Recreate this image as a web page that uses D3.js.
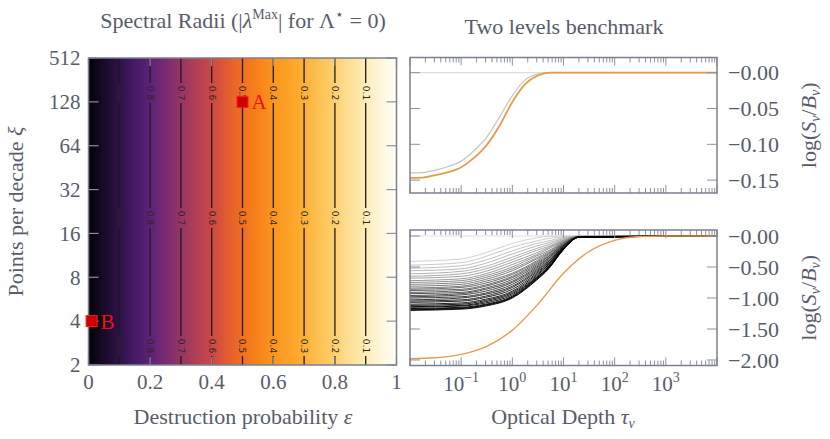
<!DOCTYPE html>
<html>
<head>
<meta charset="utf-8">
<script src="https://cdn.jsdelivr.net/npm/d3@7"></script>
<style>
  body { margin: 0; background: #fff; }
  text { font-family: "Liberation Serif", serif; fill: #575c6b; }
</style>
</head>
<body>
<div id="vis-holder"></div>
<script>
// ---- data ---------------------------------------------------------------
// spectral radius vs destruction probability (same for every xi row)
const epsValues = [0, 0.05, 0.1, 0.15, 0.2, 0.25, 0.3, 0.35, 0.4, 0.45, 0.5,
                   0.55, 0.6, 0.65, 0.7, 0.75, 0.8, 0.85, 0.9, 0.95, 1];
const radiusValues = [1, 0.95, 0.9, 0.85, 0.8, 0.75, 0.7, 0.65, 0.6, 0.55, 0.5,
                      0.45, 0.4, 0.35, 0.3, 0.25, 0.2, 0.15, 0.1, 0.05, 0];
const xiLevels = ["2", "4", "8", "16", "32", "64", "128", "512"];
const contourLevels = [0.9, 0.8, 0.7, 0.6, 0.5, 0.4, 0.3, 0.2, 0.1];
const epsTicks = [0, 0.2, 0.4, 0.6, 0.8, 1];
const epsTickLabels = ["0", "0.2", "0.4", "0.6", "0.8", "1"];
const markerNames = ["A", "B"];
const markerEps = [0.5, 0.01];
const markerXi = ["128", "4"];

// two level benchmark, top panel (eps = 0.5)  [tau, log(S/B)]
const topExact = [[0.01, -0.147], [0.0178, -0.1465], [0.0316, -0.143], [0.056, -0.139],
                  [0.1, -0.132], [0.178, -0.119], [0.316, -0.101], [0.562, -0.074],
                  [1.0, -0.041], [1.78, -0.016], [3.16, -0.004], [5.62, 0], [10, 0], [10000, 0]];
const topIter = [[0.01, -0.140], [0.0178, -0.1395], [0.0316, -0.136], [0.056, -0.131],
                 [0.1, -0.1235], [0.178, -0.109], [0.316, -0.090], [0.562, -0.062],
                 [1.0, -0.032], [1.78, -0.010], [3.16, -0.002], [5.62, 0], [10, 0], [10000, 0]];
const startGuess = [[0.01, 0], [10000, 0]];

// bottom panel: iterations sampled at tauNodes
const tauNodes = [0.01, 0.1, 0.3, 1, 3, 5, 10, 20, 10000];
const iterCurves = [
  [-0.41, -0.37, -0.27, -0.12, -0.03, -0.005, 0, 0, 0],
  [-0.47, -0.43, -0.33, -0.18, -0.08, -0.04, -0.015, -0.001, 0],
  [-0.52, -0.48, -0.39, -0.24, -0.12, -0.08, -0.030, -0.003, 0],
  [-0.56, -0.53, -0.44, -0.29, -0.16, -0.11, -0.043, -0.004, 0],
  [-0.61, -0.57, -0.49, -0.34, -0.20, -0.14, -0.055, -0.005, 0],
  [-0.65, -0.61, -0.53, -0.38, -0.23, -0.17, -0.066, -0.006, 0],
  [-0.68, -0.65, -0.57, -0.42, -0.27, -0.19, -0.076, -0.007, 0],
  [-0.72, -0.69, -0.61, -0.46, -0.30, -0.21, -0.086, -0.008, 0],
  [-0.75, -0.72, -0.64, -0.50, -0.32, -0.24, -0.095, -0.009, 0],
  [-0.78, -0.75, -0.67, -0.53, -0.35, -0.26, -0.103, -0.009, 0],
  [-0.81, -0.78, -0.70, -0.56, -0.37, -0.28, -0.111, -0.010, 0],
  [-0.84, -0.81, -0.73, -0.60, -0.40, -0.29, -0.119, -0.011, 0],
  [-0.86, -0.83, -0.76, -0.62, -0.42, -0.31, -0.125, -0.011, 0],
  [-0.88, -0.86, -0.79, -0.65, -0.44, -0.33, -0.132, -0.012, 0],
  [-0.91, -0.88, -0.81, -0.67, -0.46, -0.34, -0.139, -0.013, 0],
  [-0.93, -0.91, -0.84, -0.70, -0.48, -0.36, -0.145, -0.013, 0],
  [-0.96, -0.93, -0.86, -0.73, -0.50, -0.37, -0.152, -0.014, 0],
  [-0.98, -0.95, -0.89, -0.75, -0.52, -0.39, -0.158, -0.014, 0],
  [-1.00, -0.98, -0.92, -0.78, -0.54, -0.41, -0.165, -0.015, 0],
  [-1.03, -1.00, -0.94, -0.81, -0.56, -0.42, -0.172, -0.016, 0],
  [-1.05, -1.03, -0.97, -0.83, -0.58, -0.44, -0.178, -0.016, 0],
  [-1.07, -1.05, -0.99, -0.86, -0.60, -0.45, -0.185, -0.017, 0],
  [-1.10, -1.08, -1.02, -0.89, -0.62, -0.47, -0.191, -0.017, 0],
  [-1.12, -1.10, -1.04, -0.91, -0.64, -0.48, -0.197, -0.018, 0],
  [-1.14, -1.12, -1.06, -0.93, -0.66, -0.50, -0.202, -0.018, 0],
  [-1.15, -1.13, -1.08, -0.95, -0.67, -0.51, -0.207, -0.019, 0],
  [-1.17, -1.15, -1.10, -0.97, -0.68, -0.52, -0.211, -0.019, 0],
  [-1.18, -1.16, -1.11, -0.98, -0.69, -0.53, -0.215, -0.020, 0],
  [-1.19, -1.17, -1.12, -0.99, -0.70, -0.53, -0.218, -0.020, 0],
  [-1.20, -1.18, -1.13, -1.00, -0.71, -0.54, -0.220, -0.020, 0]
];
// bottom panel exact solution (eps = 1e-4)
const bottomExact = [[0.01, -1.98], [0.0316, -1.965], [0.1, -1.91], [0.316, -1.78],
                     [1, -1.52], [3.16, -1.10], [10, -0.60], [31.6, -0.25],
                     [100, -0.07], [316, -0.008], [1000, 0], [10000, 0]];

const topTicks = [0, -0.05, -0.1, -0.15];
const topTickLabels = ["\u22120.00", "\u22120.05", "\u22120.10", "\u22120.15"];
const bottomTicks = [0, -0.5, -1, -1.5, -2];
const bottomTickLabels = ["\u22120.00", "\u22120.50", "\u22121.00", "\u22121.50", "\u22122.00"];
const tauLabelTicks = [0.1, 1, 10, 100, 1000];
const tauLabelExps = ["\u22121", "0", "1", "2", "3"];

// ---- styles -------------------------------------------------------------
// colours for spectral radius 0 -> 1
const heatColors = ["#fffdf5", "#fff6dc", "#feedb8", "#fee096", "#fed072", "#fec153",
                    "#fdb035", "#fca226", "#fb951e", "#f7821a", "#f0701f", "#e25c30",
                    "#cc4845", "#b13f55", "#953664", "#792b70", "#5e2278", "#461a66",
                    "#2e1248", "#180b28", "#030207"];
const frameColor = "#7b8090";
const tickColor = "#8c919c";
const orange = "#e69a4b";

const width = 830, height = 439;

const svg = d3.select("#vis-holder")
  .append("svg")
  .attr("width", width)
  .attr("height", height);

const defs = svg.append("defs");

// ---- left: spectral radius map -----------------------------------------
const heat = { left: 88.5, right: 396.5, top: 58, bottom: 365 };

const xHeat = d3.scaleLinear().domain([0, 1]).range([heat.left, heat.right]);
const yHeat = d3.scalePoint().domain(xiLevels).range([heat.bottom, heat.top]);
const color = d3.scaleLinear()
  .domain(heatColors.map((c, i) => i / (heatColors.length - 1)))
  .range(heatColors);

const grad = defs.append("linearGradient")
  .attr("id", "heatGrad")
  .attr("gradientUnits", "userSpaceOnUse")
  .attr("x1", heat.left).attr("x2", heat.right)
  .attr("y1", 0).attr("y2", 0);
grad.selectAll("stop")
  .data(epsValues)
  .enter().append("stop")
  .attr("offset", d => d)
  .attr("stop-color", (d, i) => color(radiusValues[i]));

// one band per xi row
function bandTop(i) {
  return i === xiLevels.length - 1 ? heat.top : (yHeat(xiLevels[i]) + yHeat(xiLevels[i + 1])) / 2;
}
function bandBottom(i) {
  return i === 0 ? heat.bottom : (yHeat(xiLevels[i]) + yHeat(xiLevels[i - 1])) / 2;
}
svg.append("g").selectAll("rect")
  .data(xiLevels)
  .enter().append("rect")
  .attr("x", heat.left)
  .attr("width", heat.right - heat.left)
  .attr("y", (d, i) => bandTop(i))
  .attr("height", (d, i) => bandBottom(i) - bandTop(i))
  .attr("fill", "url(#heatGrad)")
  .attr("shape-rendering", "crispEdges");

// contour lines (where radius == level), broken at the labels
const epsAt = d3.scaleLinear().domain(radiusValues).range(epsValues);
const labelFrac = [0.114, 0.521, 0.938];
const gap = 10;
const contours = svg.append("g");
contourLevels.forEach(level => {
  const cx = xHeat(epsAt(level));
  const ys = labelFrac.map(f => heat.top + f * (heat.bottom - heat.top));
  let y0 = heat.top;
  ys.forEach(yl => {
    contours.append("line")
      .attr("x1", cx).attr("x2", cx)
      .attr("y1", y0).attr("y2", yl - gap)
      .attr("stroke", "#1c1a1c").attr("stroke-width", 1.3);
    y0 = yl + gap;
  });
  contours.append("line")
    .attr("x1", cx).attr("x2", cx)
    .attr("y1", y0).attr("y2", heat.bottom)
    .attr("stroke", "#1c1a1c").attr("stroke-width", 1.3);
  ys.forEach(yl => {
    contours.append("text")
      .attr("transform", `translate(${cx},${yl}) rotate(90)`)
      .attr("text-anchor", "middle")
      .attr("dy", "0.35em")
      .style("font-family", "'DejaVu Sans', sans-serif")
      .style("font-size", "9px")
      .style("fill", "#2a2426")
      .text(level.toFixed(1));
  });
});

// ticks of the map
const heatTicks = svg.append("g");
xiLevels.forEach(v => {
  heatTicks.append("line").attr("x1", heat.left).attr("x2", heat.left + 10)
    .attr("y1", yHeat(v)).attr("y2", yHeat(v));
  heatTicks.append("line").attr("x1", heat.right - 10).attr("x2", heat.right)
    .attr("y1", yHeat(v)).attr("y2", yHeat(v));
});
epsTicks.forEach(v => {
  heatTicks.append("line").attr("x1", xHeat(v)).attr("x2", xHeat(v))
    .attr("y1", heat.top).attr("y2", heat.top + 8);
  heatTicks.append("line").attr("x1", xHeat(v)).attr("x2", xHeat(v))
    .attr("y1", heat.bottom - 8).attr("y2", heat.bottom);
});
heatTicks.selectAll("line").attr("stroke", tickColor).attr("stroke-width", 1.2);

svg.append("rect")
  .attr("x", heat.left).attr("y", heat.top)
  .attr("width", heat.right - heat.left).attr("height", heat.bottom - heat.top)
  .attr("fill", "none").attr("stroke", frameColor).attr("stroke-width", 1.5);

// tick labels
svg.append("g").selectAll("text")
  .data(xiLevels)
  .enter().append("text")
  .attr("x", heat.left - 8)
  .attr("y", d => yHeat(d))
  .attr("dy", "0.35em")
  .attr("text-anchor", "end")
  .style("font-size", "21px")
  .text(d => d);

svg.append("g").selectAll("text")
  .data(epsTicks)
  .enter().append("text")
  .attr("x", d => xHeat(d))
  .attr("y", 389)
  .attr("text-anchor", "middle")
  .style("font-size", "21px")
  .text((d, i) => epsTickLabels[i]);

// markers A and B
markerNames.forEach((name, i) => {
  const mx = xHeat(markerEps[i]), my = yHeat(markerXi[i]);
  svg.append("rect")
    .attr("x", mx - 5.5).attr("y", my - 5.5)
    .attr("width", 11).attr("height", 11)
    .attr("fill", "#cf0000").attr("stroke", "#ff1e1e").attr("stroke-width", 1);
  svg.append("text")
    .attr("x", mx + 9).attr("y", my + 7.5)
    .style("font-size", "21px")
    .style("fill", "#f01010")
    .text(name);
});

// titles and labels
const title1 = svg.append("text").attr("x", 243).attr("y", 28)
  .attr("text-anchor", "middle").style("font-size", "22px");
title1.append("tspan").text("Spectral Radii (|");
title1.append("tspan").style("font-style", "italic").text("\u03bb");
title1.append("tspan").attr("dy", -9).style("font-size", "14px").text("Max");
title1.append("tspan").attr("dy", 9).text("| for \u039b");
title1.append("tspan").attr("dy", -9).style("font-size", "14px").text("\u22c6");
title1.append("tspan").attr("dy", 9).text(" = 0)");

const yLab = svg.append("text")
  .attr("transform", `translate(23,${(heat.top + heat.bottom) / 2}) rotate(-90)`)
  .attr("text-anchor", "middle").style("font-size", "22px");
yLab.append("tspan").text("Points per decade ");
yLab.append("tspan").style("font-style", "italic").text("\u03be");

const xLab = svg.append("text").attr("x", 243).attr("y", 424)
  .attr("text-anchor", "middle").style("font-size", "22px");
xLab.append("tspan").text("Destruction probability ");
xLab.append("tspan").style("font-style", "italic").text("\u03b5");

// ---- right: two levels benchmark ---------------------------------------
const px0 = 410, px1 = 717;
const xTau = d3.scaleLog().domain([1e-2, 1e4]).range([px0, px1]);
const panels = [
  { top: 57.5, bottom: 193, domain: [-0.168, 0.0212], ticks: topTicks, labels: topTickLabels },
  { top: 230, bottom: 365.5, domain: [-2.089, 0.097], ticks: bottomTicks, labels: bottomTickLabels }
];
panels.forEach((p, k) => {
  p.y = d3.scaleLinear().domain(p.domain).range([p.bottom, p.top]);
  defs.append("clipPath").attr("id", "clip" + k)
    .append("rect").attr("x", px0).attr("y", p.top)
    .attr("width", px1 - px0).attr("height", p.bottom - p.top);
  p.g = svg.append("g");
  p.plot = p.g.append("g").attr("clip-path", `url(#clip${k})`);
});

function lineFor(y) {
  return d3.line()
    .x(d => xTau(d[0]))
    .y(d => y(d[1]))
    .curve(d3.curveMonotoneX);
}

// top panel curves
{
  const p = panels[0], line = lineFor(p.y);
  p.plot.append("path").datum(startGuess).attr("d", line)
    .attr("fill", "none").attr("stroke", "#dcdcdc").attr("stroke-width", 1.2);
  p.plot.append("path").datum(topIter).attr("d", line)
    .attr("fill", "none").attr("stroke", "#c4c4c4").attr("stroke-width", 1.2);
  p.plot.append("path").datum(topExact).attr("d", line)
    .attr("fill", "none").attr("stroke", orange).attr("stroke-width", 1.8);
}

// bottom panel curves
{
  const p = panels[1], line = lineFor(p.y);
  const n = iterCurves.length;
  const shade = d3.interpolateRgb("#cdcdcd", "#000000");
  p.plot.append("path").datum(startGuess).attr("d", line)
    .attr("fill", "none").attr("stroke", "#dcdcdc").attr("stroke-width", 1);
  p.plot.selectAll(".iter")
    .data(iterCurves)
    .enter().append("path")
    .attr("class", "iter")
    .attr("d", row => line(row.map((v, j) => [tauNodes[j], v])))
    .attr("fill", "none")
    .attr("stroke", (row, i) => shade(Math.min(1, 1.3 * i / (n - 1))))
    .attr("stroke-width", 0.9);
  p.plot.append("path").datum(bottomExact).attr("d", line)
    .attr("fill", "none").attr("stroke", orange).attr("stroke-width", 1.4);
}

// ticks, frames, tick labels
const tauTicks = xTau.ticks();
panels.forEach((p, k) => {
  const t = p.g.append("g");
  tauTicks.forEach(v => {
    const major = Math.abs(Math.log10(v) - Math.round(Math.log10(v))) < 1e-9;
    const len = major ? 8 : 5;
    t.append("line").attr("x1", xTau(v)).attr("x2", xTau(v))
      .attr("y1", p.top).attr("y2", p.top + len);
    t.append("line").attr("x1", xTau(v)).attr("x2", xTau(v))
      .attr("y1", p.bottom - len).attr("y2", p.bottom);
  });
  p.ticks.forEach(v => {
    t.append("line").attr("x1", px0).attr("x2", px0 + 10)
      .attr("y1", p.y(v)).attr("y2", p.y(v));
    t.append("line").attr("x1", px1 - 10).attr("x2", px1)
      .attr("y1", p.y(v)).attr("y2", p.y(v));
  });
  t.selectAll("line").attr("stroke", tickColor).attr("stroke-width", 1);

  p.g.append("rect")
    .attr("x", px0).attr("y", p.top)
    .attr("width", px1 - px0).attr("height", p.bottom - p.top)
    .attr("fill", "none").attr("stroke", frameColor).attr("stroke-width", 1.5);

  p.g.append("g").selectAll("text")
    .data(p.ticks)
    .enter().append("text")
    .attr("x", 728)
    .attr("y", d => p.y(d))
    .attr("dy", "0.35em")
    .style("font-size", "22px")
    .text((d, i) => p.labels[i]);

  const lab = p.g.append("text")
    .attr("transform", `translate(816,${(p.top + p.bottom) / 2}) rotate(-90)`)
    .attr("text-anchor", "middle").style("font-size", "22px");
  lab.append("tspan").text("log(");
  lab.append("tspan").style("font-style", "italic").text("S");
  lab.append("tspan").attr("dy", 4).style("font-size", "14px").style("font-style", "italic").text("\u03bd");
  lab.append("tspan").attr("dy", -4).text("/");
  lab.append("tspan").style("font-style", "italic").text("B");
  lab.append("tspan").attr("dy", 4).style("font-size", "14px").style("font-style", "italic").text("\u03bd");
  lab.append("tspan").attr("dy", -4).text(")");
});

// tau labels under the bottom panel
tauLabelTicks.forEach((v, i) => {
  const t = svg.append("text")
    .attr("x", xTau(v)).attr("y", 391)
    .attr("text-anchor", "middle").style("font-size", "21px");
  t.append("tspan").text("10");
  t.append("tspan").attr("dy", -9).style("font-size", "14px").text(tauLabelExps[i]);
});

svg.append("text").attr("x", 564).attr("y", 34)
  .attr("text-anchor", "middle").style("font-size", "22px")
  .text("Two levels benchmark");

const tauLab = svg.append("text").attr("x", 563).attr("y", 424)
  .attr("text-anchor", "middle").style("font-size", "22px");
tauLab.append("tspan").text("Optical Depth ");
tauLab.append("tspan").style("font-style", "italic").text("\u03c4");
tauLab.append("tspan").attr("dy", 4).style("font-size", "14px").style("font-style", "italic").text("\u03bd");
</script>
</body>
</html>
